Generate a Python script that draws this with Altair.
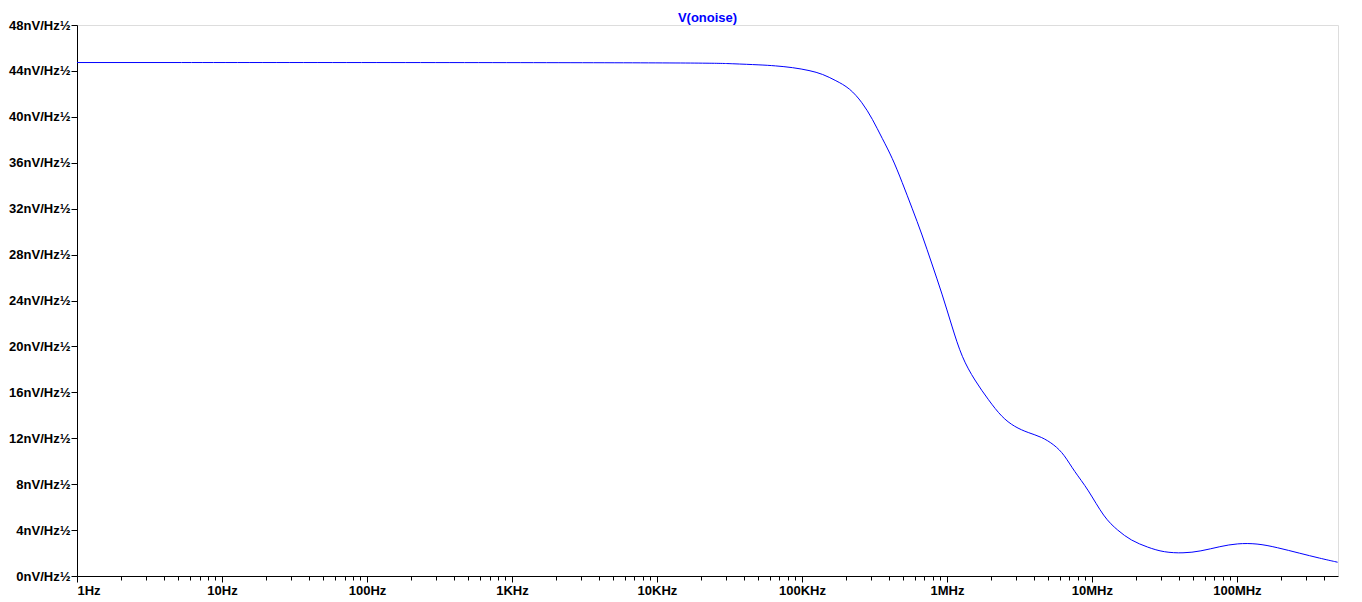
import altair as alt
import pandas as pd

# Curve (frequency in Hz, noise in nV/Hz½)
freq_hz = [1, 21000, 33600, 51400, 65100, 86500, 113000, 139000, 171000,
           213000, 261000, 306000, 358000, 419000, 491000, 575000, 673000,
           788000, 925000, 1.082e6, 1.268e6, 1.556e6, 1.941e6, 2.382e6,
           2.924e6, 3.648e6, 4.478e6, 5.495e6, 6.44e6, 7.54e6, 9.40e6,
           1.211e7, 1.51e7, 1.853e7, 2.43e7, 3.13e7, 4.28e7, 5.60e7,
           7.68e7, 1.005e8, 1.377e8, 1.888e8, 2.715e8, 3.72e8, 4.95e8]
noise_nv = [44.73, 44.73, 44.62, 44.53, 44.45, 44.30, 44.04, 43.73, 43.16,
            42.52, 41.25, 39.83, 38.11, 36.47, 34.31, 32.04, 29.76,
            27.18, 24.60, 21.76, 19.01, 17.03, 15.31, 13.85,
            12.99, 12.47, 12.13, 11.44, 10.58, 9.12, 7.57,
            5.08, 3.96, 3.10, 2.49, 2.06, 1.98, 2.15,
            2.58, 2.84, 2.84, 2.49, 1.98, 1.55, 1.20]

major_ticks = [1, 10, 100, 1e3, 1e4, 1e5, 1e6, 1e7, 1e8]
minor_mult = [2, 3, 4, 5, 6, 7, 8, 9]
y_ticks = [0, 4, 8, 12, 16, 20, 24, 28, 32, 36, 40, 44, 48]
x_max = 4.98e8

minor_ticks = [d * m for d in major_ticks for m in minor_mult if d * m <= x_max]

df = pd.DataFrame({"f": freq_hz, "v": noise_nv})
df_minor = pd.DataFrame({"f": minor_ticks})

FONT = "Liberation Sans"

xscale = alt.Scale(type="log", domain=[1, x_max], nice=False)

line = alt.Chart(df).mark_line(color="#0000FF", strokeWidth=1, interpolate="basis").encode(
    x=alt.X("f:Q", scale=xscale,
            axis=alt.Axis(values=major_ticks, title=None, orient="bottom",
                          tickSize=6, tickColor="black", domainColor="black",
                          labelFontSize=13, labelFontWeight="bold", labelColor="black",
                          labelFont=FONT, labelPadding=2, grid=False,
                          labelExpr="datum.value >= 1e6 ? format(datum.value/1e6,'d')+'MHz' : datum.value >= 1e3 ? format(datum.value/1e3,'d')+'KHz' : format(datum.value,'d')+'Hz'")),
    y=alt.Y("v:Q", scale=alt.Scale(domain=[0, 48], nice=False),
            axis=alt.Axis(values=y_ticks, title=None, tickSize=6, tickColor="black",
                          domainColor="black", labelFontSize=13, labelFontWeight="bold",
                          labelColor="black", labelFont=FONT, labelPadding=1, grid=False,
                          labelExpr="datum.value + 'nV/Hz½'")),
)

minor = alt.Chart(df_minor).mark_point(opacity=0).encode(
    x=alt.X("f:Q", scale=xscale,
            axis=alt.Axis(values=minor_ticks, title=None, orient="bottom", labels=False,
                          domain=False, tickSize=4, tickColor="black", grid=False)),
)

chart = alt.layer(line, minor).resolve_axis(x="independent").resolve_scale(x="shared").properties(
    width=1261,
    height=551,
    padding={"left": 69, "top": 17, "right": 16, "bottom": 20},
    autosize=alt.AutoSizeParams(type="none"),
    title=alt.TitleParams("V(onoise)", color="#0000FF", fontSize=13, fontWeight="bold",
                          font=FONT, anchor="middle", offset=1, dy=7),
).configure_view(stroke="black", strokeWidth=1).configure(background="white")

chart.save("out.html", embed_options={"renderer": "svg", "actions": False})
